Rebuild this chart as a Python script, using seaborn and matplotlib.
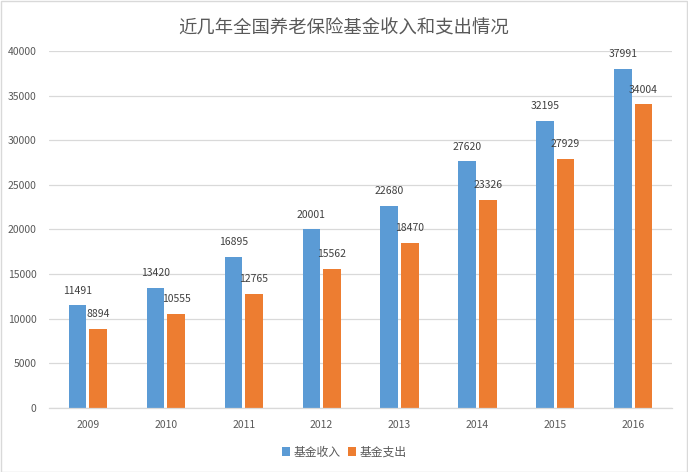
import numpy as np
import pandas as pd
import matplotlib.pyplot as plt
import seaborn as sns

# 数据
years = ['2009', '2010', '2011', '2012', '2013', '2014', '2015', '2016']
income = [11491, 13420, 16895, 20001, 22680, 27620, 32195, 37991]
expense = [8894, 10555, 12765, 15562, 18470, 23326, 27929, 34004]
series = ['基金收入', '基金支出']
title = '近几年全国养老保险基金收入和支出情况'

df = pd.DataFrame({
    '年份': years * 2,
    '金额': income + expense,
    '类别': [series[0]] * len(years) + [series[1]] * len(years),
})

sns.set_style('white')
plt.rcParams['font.family'] = ['Noto Sans CJK SC', 'DejaVu Sans']

fig = plt.figure(figsize=(6.88, 4.72), dpi=100)
ax = fig.add_axes([0.0712, 0.1356, 0.9058, 0.7564])

sns.barplot(data=df, x='年份', y='金额', hue='类别',
            palette=['#5B9BD5', '#ED7D31'], width=0.53, gap=0.15,
            saturation=1, linewidth=0, ax=ax)

ax.set_ylim(0, 40000)
ax.set_yticks(np.arange(0, 40001, 5000))
ax.set_xlim(-0.5, len(years) - 0.5)
ax.set_xlabel('')
ax.set_ylabel('')
ax.grid(axis='y', color='#D9D9D9', linewidth=0.9)
ax.set_axisbelow(True)
for s in ['top', 'right', 'left']:
    ax.spines[s].set_visible(False)
ax.spines['bottom'].set_color('#D9D9D9')
ax.spines['bottom'].set_linewidth(0.9)
ax.tick_params(axis='both', length=0, labelsize=7.5, labelcolor='#595959')
ax.tick_params(axis='y', pad=9)
ax.tick_params(axis='x', pad=9)

for c in ax.containers:
    ax.bar_label(c, fmt='%d', padding=7, fontsize=7.5, color='#404040')

fig.suptitle(title, x=0.5, y=0.958, fontsize=13.2, color='#595959')

handles, labels = ax.get_legend_handles_labels()
ax.legend(handles, labels, loc='center', bbox_to_anchor=(0.5, 0.042),
          bbox_transform=fig.transFigure, ncol=2, frameon=False,
          fontsize=8.5, handlelength=0.7, handleheight=0.7,
          handletextpad=0.3, columnspacing=0.6, labelcolor='#595959')

# 图表外框
fig.add_artist(plt.Rectangle((0.001, 0.001), 0.997, 0.997, transform=fig.transFigure,
                             fill=False, edgecolor='#D9D9D9', linewidth=1))

fig.savefig('out.png', dpi=100)
